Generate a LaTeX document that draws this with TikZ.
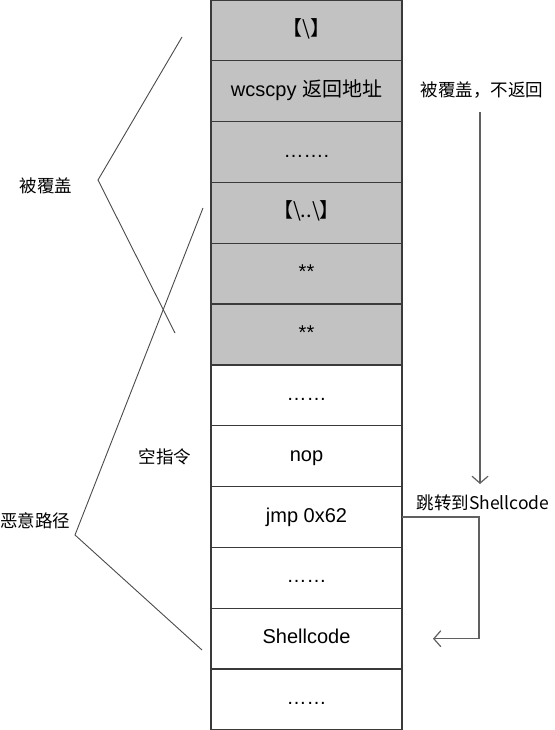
\documentclass[tikz,border=0pt]{standalone}
\usepackage{fontspec}
\setmainfont{Liberation Sans}
\newfontfamily\cjk{Noto Sans CJK SC}
\usepackage{xcolor}
\colorlet{colorOverwritten}{black!24}
\definecolor{colorBorder}{HTML}{3A3A3A}
\definecolor{colorBrace}{HTML}{4A4A4A}
\definecolor{colorFlow}{HTML}{606060}
\usetikzlibrary{arrows.meta, positioning}
\tikzset{
  cell/.style={draw=colorBorder, line width=1.3pt, minimum width=191pt, minimum height=60.83pt, inner sep=0pt, outer sep=0pt, text height=14.3pt, text depth=4.2pt, font=\fontsize{20}{24}\selectfont},
  hit/.style={cell, fill=colorOverwritten},
  note/.style={font=\cjk\fontsize{17.5}{21}\selectfont, inner sep=1pt},
  brace/.style={draw=colorBrace, line width=0.9pt},
  flow/.style={draw=colorFlow, line width=1.2pt},
}

\begin{document}
\begin{tikzpicture}[x=1pt, y=-1pt, >={Straight Barb[length=7pt,width=16pt]}, node distance=0pt]
\useasboundingbox (0,0) rectangle (554,730);
% stack
\node[hit] (s1) at (306.5,30.4) {\cjk 【\textbackslash】};
\node[hit, below=of s1] (s2) {wcscpy {\cjk 返回地址}};
\node[hit, below=of s2] (s3) {…….};
\node[hit, below=of s3] (s4) {\cjk 【\textbackslash..\textbackslash】};
\node[hit, below=of s4] (s5) {**};
\node[hit, below=of s5] (s6) {**};
\node[cell, below=of s6] (s7) {……};
\node[cell, below=of s7] (s8) {nop};
\node[cell, below=of s8] (s9) {jmp 0x62};
\node[cell, below=of s9] (s10) {……};
\node[cell, below=of s10] (s11) {Shellcode};
\node[cell, below=of s11] (s12) {……};
% labels
\node[note] (cover) at (46,186) {被覆盖};
\node[note] (evil) at (35,521) {恶意路径};
\node[note] (nopNote) at (165,457) {空指令};
\node[note] (noRet) at (482,90) {被覆盖，不返回};
\node[note] (jumpTo) at (483,503) {跳转到Shellcode};
% braces
\coordinate (coverUp) at (182,37);
\coordinate (coverTip) at (98,180);
\coordinate (coverDown) at (175,333);
\draw[brace] (coverUp) -- (coverTip) -- (coverDown);
\coordinate (evilUp) at (203,208);
\coordinate (evilTip) at (75,535);
\coordinate (evilDown) at (202,650);
\draw[brace] (evilUp) -- (evilTip) -- (evilDown);
% flow
\coordinate (fallTop) at (480,112);
\coordinate (fallEnd) at (480,484);
\draw[flow, ->] (fallTop) -- (fallEnd);
\draw[flow, ->] (s9.east) -- ++(77,0) |- ([xshift=31pt]s11.east);
\end{tikzpicture}
\end{document}
